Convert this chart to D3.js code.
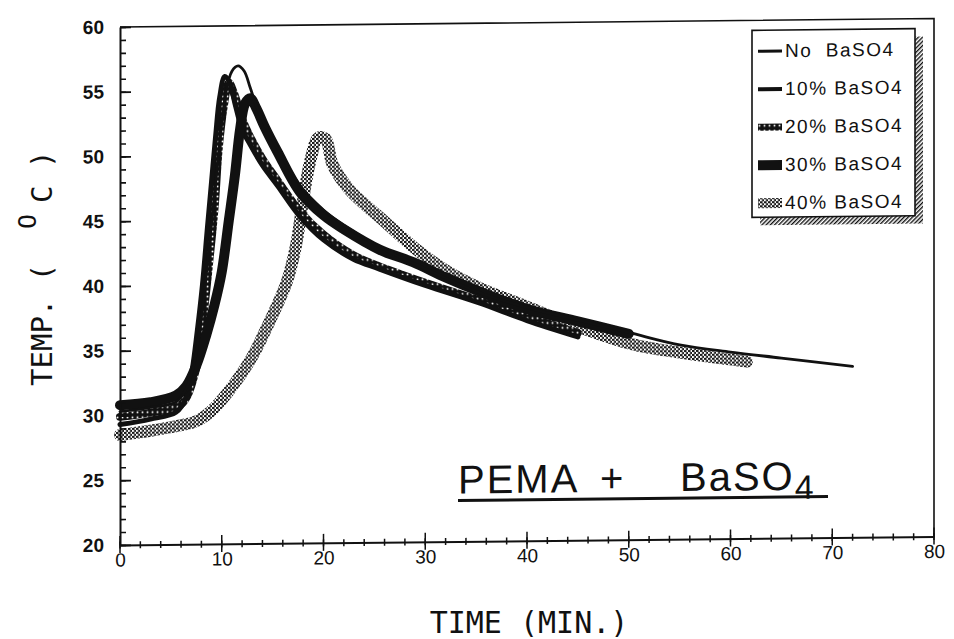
<!DOCTYPE html>
<meta charset="utf-8" />
<script src="https://d3js.org/d3.v7.min.js"></script>
<style>
  body { margin: 0; background: #fff; }
  text { fill: #111; }
</style>
<div id="chart"></div>
<script>
  // readings taken off the scanned plot (time in min, temperature in deg C)
  const noTime = [0, 3, 5.5, 6.5, 7.3, 8.0, 8.7, 9.3, 9.8, 10.4, 11.0, 11.6, 12.2, 12.8, 13.5, 15, 17.7, 20, 22, 25.5, 30.5, 35, 40, 45, 50, 55, 60, 65, 72];
  const noTemp = [30.3, 30.6, 31.0, 32.0, 34.0, 37.5, 42.5, 47.0, 51.0, 54.8, 56.5, 56.9, 56.5, 55.2, 53.6, 51.2, 47.6, 45.7, 44.5, 42.8, 40.9, 39.3, 38.0, 37.0, 36.0, 35.0, 34.4, 33.9, 33.2];

  const p10Time = [0, 3, 5.5, 6.5, 7.1, 7.6, 8.1, 8.6, 9.0, 9.4, 9.8, 10.3, 10.8, 11.3, 12, 12.8, 14, 15.5, 17.7, 20, 22.9, 25.5, 30, 35.3, 40, 45];
  const p10Temp = [29.3, 29.7, 30.2, 31.3, 33.5, 36.5, 40, 44.5, 48, 51.5, 54.5, 56.1, 55.6, 54, 52, 50.8, 49.2, 47.6, 45.2, 43.4, 41.9, 41.1, 39.8, 38.4, 37.0, 35.7];

  const p20Time = [0, 3, 6, 7.4, 8.1, 8.8, 9.3, 9.7, 10.2, 10.7, 11.2, 12, 12.8, 14, 15.5, 17.7, 20, 22.9, 25.5, 30, 35.3, 40, 45];
  const p20Temp = [29.9, 30.2, 30.8, 33.3, 37, 42, 46, 50.5, 53.8, 55.6, 54.8, 52.8, 51.4, 49.7, 48, 45.6, 43.8, 42.2, 41.3, 40.0, 38.6, 37.3, 36.0];

  const p30Time = [0, 3, 5.5, 6.5, 7.5, 8.5, 9.3, 10, 10.7, 11.3, 11.8, 12.3, 12.8, 13.4, 14.2, 15.5, 17.7, 20, 22, 25.5, 28.8, 32, 35.3, 40, 45, 50];
  const p30Temp = [30.8, 31.0, 31.5, 32.2, 33.8, 36.2, 38.5, 41, 45, 48.5, 52, 54, 54.4, 53.6, 52.2, 50.2, 47.1, 45.3, 44.2, 42.6, 41.6, 40.4, 39.3, 37.9, 36.9, 35.9];

  const p40Time = [0, 3, 6, 7.5, 9, 10.7, 12.9, 14.5, 16.4, 17.3, 18, 18.7, 19.5, 20.2, 20.9, 22.5, 24.2, 25.8, 27.5, 29.1, 32.1, 35.5, 39.3, 45, 50.3, 55, 61.6];
  const p40Temp = [28.5, 28.8, 29.2, 29.5, 30.3, 31.8, 34.3, 36.8, 40.2, 43, 46.5, 49.5, 51.3, 51.2, 49.2, 47.3, 46.0, 44.9, 43.7, 42.6, 40.9, 39.5, 38.3, 36.5, 35.1, 34.4, 33.65];

  const seriesNames = ["No  BaSO4", "10% BaSO4", "20% BaSO4", "30% BaSO4", "40% BaSO4"];
  const xTicks = [0, 10, 20, 30, 40, 50, 60, 70, 80];
  const yTicks = [20, 25, 30, 35, 40, 45, 50, 55, 60];

  const W = 954, H = 639;
  const x = d3.scaleLinear().domain([0, 80]).range([120, 934]);
  const y = d3.scaleLinear().domain([20, 60]).range([545, 27]);

  const svg = d3.select("#chart").append("svg")
    .attr("width", W).attr("height", H)
    .style("font-family", "'Liberation Sans', Arial, sans-serif");

  // fill patterns for the screened curves
  const defs = svg.append("defs");
  const dots = defs.append("pattern").attr("id", "dots")
    .attr("patternUnits", "userSpaceOnUse").attr("width", 5).attr("height", 5);
  dots.append("rect").attr("width", 5).attr("height", 5).attr("fill", "#111");
  dots.append("circle").attr("cx", 2.5).attr("cy", 2.5).attr("r", 1).attr("fill", "#fff");

  const screen = defs.append("pattern").attr("id", "screen")
    .attr("patternUnits", "userSpaceOnUse").attr("width", 4).attr("height", 4);
  screen.append("rect").attr("width", 4).attr("height", 4).attr("fill", "#fff");
  screen.append("rect").attr("x", 0).attr("y", 0).attr("width", 2.6).attr("height", 2).attr("fill", "#1a1a1a");
  screen.append("rect").attr("x", 2).attr("y", 2).attr("width", 2.6).attr("height", 2).attr("fill", "#1a1a1a");

  const hatch = defs.append("pattern").attr("id", "hatch")
    .attr("patternUnits", "userSpaceOnUse").attr("width", 3).attr("height", 3)
    .attr("patternTransform", "rotate(45)");
  hatch.append("rect").attr("width", 3).attr("height", 3).attr("fill", "#fff");
  hatch.append("rect").attr("width", 1.4).attr("height", 3).attr("fill", "#111");

  // the scan is slightly tilted, so the plot sits in a skewed group
  const g = svg.append("g")
    .attr("transform", "translate(120,545) skewY(-0.6) translate(-120,-545)");

  // frame
  g.append("path")
    .attr("d", `M${x(0)},${y(60)}H${x(80)}V${y(20)}`)
    .attr("fill", "none").attr("stroke", "#111").attr("stroke-width", 1.6);

  // curves
  const line = d3.line()
    .x(d => x(d[0])).y(d => y(d[1]))
    .curve(d3.curveCatmullRom.alpha(0.5));

  const series = [
    { t: p40Time, v: p40Temp, stroke: "url(#screen)", w: 12 },
    { t: p20Time, v: p20Temp, stroke: "url(#dots)", w: 8 },
    { t: p10Time, v: p10Temp, stroke: "#111", w: 5 },
    { t: p30Time, v: p30Temp, stroke: "#111", w: 10 },
    { t: noTime, v: noTemp, stroke: "#111", w: 2.8 }
  ];

  g.selectAll(".curve").data(series).join("path")
    .attr("class", "curve")
    .attr("d", s => line(s.t.map((t, i) => [t, s.v[i]])))
    .attr("fill", "none")
    .attr("stroke", s => s.stroke)
    .attr("stroke-width", s => s.w)
    .attr("stroke-linejoin", "round")
    .attr("stroke-linecap", "round");

  // y axis: minor ticks each degree, labelled every 5
  g.append("g")
    .attr("transform", `translate(${x(0)},0)`)
    .call(d3.axisLeft(y).tickValues(d3.range(20, 61, 1)).tickSize(-6).tickSizeOuter(0).tickFormat(""))
    .call(a => a.selectAll("line").attr("stroke", "#111").attr("stroke-width", 1.6))
    .call(a => a.select(".domain").attr("stroke", "#111").attr("stroke-width", 2));

  g.append("g")
    .attr("transform", `translate(${x(0)},0)`)
    .call(d3.axisLeft(y).tickValues(yTicks).tickSize(-11).tickSizeOuter(0).tickPadding(16))
    .call(a => a.select(".domain").remove())
    .call(a => a.selectAll("line").attr("stroke", "#111").attr("stroke-width", 1.8))
    .call(a => a.selectAll("text").attr("font-size", 19).attr("font-weight", "bold")
      .attr("font-family", "'Liberation Sans', Arial, sans-serif").attr("fill", "#111"));

  // x axis: minor ticks every 2 min, major crossing ticks every 10
  const xa = g.append("g").attr("transform", `translate(0,${y(20)})`);
  xa.call(d3.axisBottom(x).tickValues(xTicks).tickSize(0).tickPadding(8).tickSizeOuter(0))
    .call(a => a.select(".domain").attr("stroke", "#111").attr("stroke-width", 2))
    .call(a => a.selectAll("text").attr("font-size", 19)
      .attr("font-family", "'Liberation Sans', Arial, sans-serif").attr("fill", "#111"));
  xa.selectAll(".minor").data(d3.range(0, 81, 2)).join("line")
    .attr("class", "minor")
    .attr("x1", d => x(d)).attr("x2", d => x(d))
    .attr("y1", -3.5).attr("y2", 3.5)
    .attr("stroke", "#111").attr("stroke-width", 1.5);
  xa.selectAll(".major").data(xTicks).join("line")
    .attr("class", "major")
    .attr("x1", d => x(d)).attr("x2", d => x(d))
    .attr("y1", -9).attr("y2", 8)
    .attr("stroke", "#111").attr("stroke-width", 1.5);

  // legend with hatched drop shadow
  const lg = g.append("g").attr("transform", "translate(752,37)");
  const lgW = 163, lgH = 187;
  lg.append("rect").attr("x", 8).attr("y", 8).attr("width", lgW).attr("height", lgH)
    .attr("fill", "url(#hatch)");
  lg.append("rect").attr("width", lgW).attr("height", lgH)
    .attr("fill", "#fff").attr("stroke", "#111").attr("stroke-width", 1.6);

  const keys = lg.selectAll(".key").data(seriesNames).join("g")
    .attr("class", "key")
    .attr("transform", (d, i) => `translate(0,${27 + i * 38})`);
  const sym = [
    { h: 3, fill: "#111" },
    { h: 4, fill: "#111" },
    { h: 7, fill: "url(#dots)" },
    { h: 10, fill: "#111" },
    { h: 10, fill: "url(#screen)" }
  ];
  keys.append("rect")
    .attr("x", 6).attr("width", 24)
    .attr("y", (d, i) => -6 - sym[i].h / 2)
    .attr("height", (d, i) => sym[i].h)
    .attr("fill", (d, i) => sym[i].fill);
  keys.append("text")
    .attr("x", 33).attr("y", 0)
    .attr("font-size", 19).attr("letter-spacing", 1.5)
    .style("white-space", "pre")
    .text(d => d);

  // in-plot caption
  const cap = g.append("text")
    .attr("y", 497).attr("font-size", 40).attr("letter-spacing", 2);
  cap.append("tspan").attr("x", 458).text("PEMA");
  cap.append("tspan").attr("x", 600).text("+");
  cap.append("tspan").attr("x", 680).text("BaSO");
  cap.append("tspan").attr("dy", 9).attr("font-size", 34).text("4");
  g.append("line")
    .attr("x1", 458).attr("x2", 828).attr("y1", 504).attr("y2", 504)
    .attr("stroke", "#111").attr("stroke-width", 3);

  // axis titles
  svg.append("text")
    .attr("x", 529).attr("y", 633)
    .attr("text-anchor", "middle")
    .attr("font-family", "'DejaVu Sans Mono', monospace")
    .attr("font-size", 30)
    .text("TIME (MIN.)");

  const yt = svg.append("text")
    .attr("transform", "rotate(-90)")
    .attr("font-family", "'DejaVu Sans Mono', monospace")
    .attr("font-size", 29);
  yt.append("tspan").attr("x", -386).attr("y", 52).text("TEMP. (");
  yt.append("tspan").attr("x", -229).attr("y", 36).attr("font-size", 25).text("O");
  yt.append("tspan").attr("x", -203).attr("y", 52).style("white-space", "pre").text("C )");
</script>
